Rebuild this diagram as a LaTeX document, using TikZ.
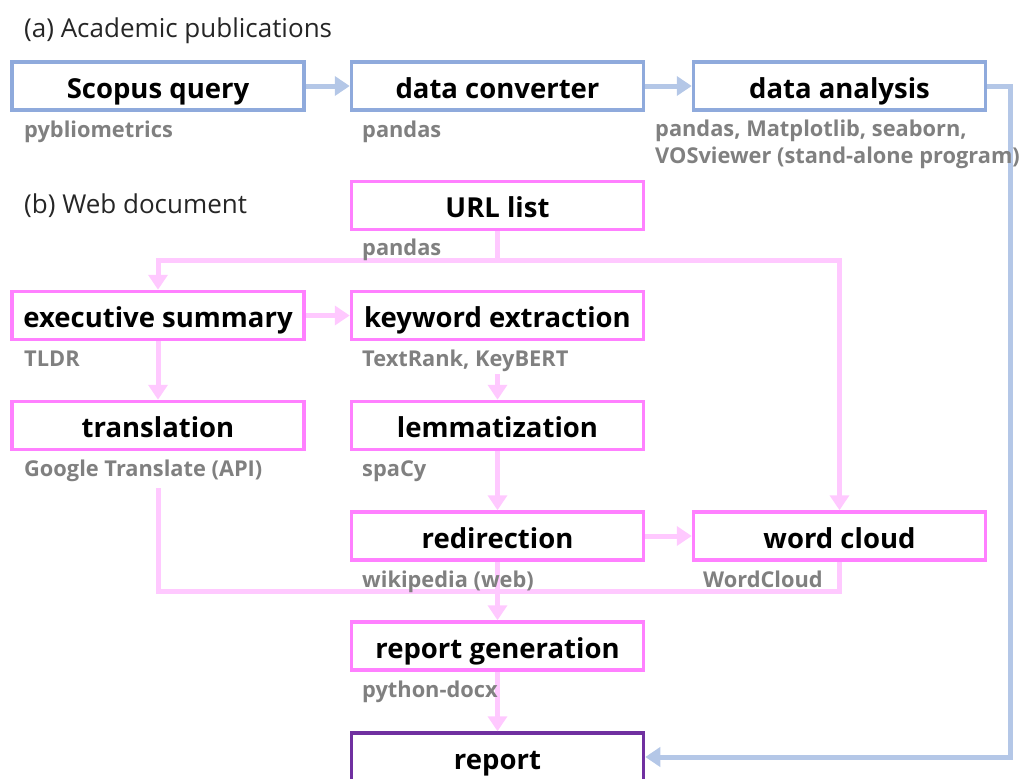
\documentclass[tikz,border=0pt]{standalone}
\usepackage{fontspec}
\setmainfont{Open Sans}
\usetikzlibrary{arrows.meta}
\definecolor{bbox}{HTML}{8FAADC}
\definecolor{barr}{HTML}{B4C7E7}
\definecolor{pbox}{HTML}{FF80FF}
\definecolor{parr}{HTML}{FFC9FF}
\definecolor{rbox}{HTML}{7030A0}
\definecolor{subgray}{HTML}{808080}
\tikzset{
  box/.style={draw, line width=3.5pt, minimum width=292pt, minimum height=48pt, inner sep=0pt,
    text height=26pt, text depth=2pt, font=\fontsize{27.5}{29}\selectfont\bfseries, text=black, fill=white},
  abox/.style={box, draw=bbox},
  wbox/.style={box, draw=pbox},
  rbox/.style={box, draw=rbox},
  sub/.style={anchor=base west, inner sep=0pt, text=subgray, font=\fontsize{21.8}{23}\selectfont\bfseries},
  head/.style={anchor=base west, inner sep=0pt, text=black!85, font=\fontsize{26}{28}\selectfont},
  barrow/.style={draw=barr, line width=5pt, -{Triangle[length=15pt,width=19pt]}},
  parrow/.style={draw=parr, line width=5pt, -{Triangle[length=15pt,width=19pt]}},
  pline/.style={draw=parr, line width=5pt},
}
\begin{document}
\begin{tikzpicture}[x=1pt,y=-1pt]
\useasboundingbox (0,0) rectangle (1026,779);
% headers
\node[head] (ha) at (24,37) {(a) Academic publications};
\node[head] (hb) at (24,213) {(b) Web document};
% row a
\node[abox] (sq) at (158,86) {Scopus query};
\node[abox] (dc) at (497.5,86) {data converter};
\node[abox] (da) at (839.5,86) {data analysis};
% row b
\node[wbox] (url) at (497.5,205.5) {URL list};
\node[wbox] (ex) at (158,315.5) {executive summary};
\node[wbox] (kw) at (497.5,315.5) {keyword extraction};
\node[wbox] (tr) at (158,425.5) {translation};
\node[wbox] (lem) at (497.5,425.5) {lemmatization};
\node[wbox] (red) at (497.5,536) {redirection};
\node[wbox] (wc) at (839.5,536) {word cloud};
\node[wbox] (rg) at (497.5,646) {report generation};
\node[rbox] (rep) at (497.5,757) {report};
% connectors
\coordinate (split) at (497.5,260);
\coordinate (join) at (497.5,591);
\coordinate (tstart) at (158,488);
\coordinate (kstart) at (497.5,374);
\draw[barrow] (sq.east) -- (dc.west);
\draw[barrow] (dc.east) -- (da.west);
\draw[barrow] (da.east) -- (1010,86) |- (rep.east);
\draw[pline] (url.south) -- (split);
\draw[parrow] (split) -| (ex.north);
\draw[parrow] (split) -| (wc.north);
\draw[parrow] (ex.east) -- (kw.west);
\draw[parrow] (ex.south) -- (tr.north);
\draw[parrow] (kstart) -- (lem.north);
\draw[parrow] (lem.south) -- (red.north);
\draw[parrow] (red.east) -- (wc.west);
\draw[pline] (tstart) |- (join);
\draw[pline] (wc.south) |- (join);
\draw[parrow] (red.south) -- (rg.north);
\draw[parrow] (rg.south) -- (rep.north);
% sub labels
\node[sub] (lsq) at (24,137) {pybliometrics};
\node[sub] (ldc) at (362,137) {pandas};
\node[sub] (lda1) at (655,136) {pandas, Matplotlib, seaborn,};
\node[sub] (lda2) at (655,163) {VOSviewer (stand-alone program)};
\node[sub] (lurl) at (362,255) {pandas};
\node[sub] (lex) at (24,366) {TLDR};
\node[sub] (lkw) at (362,366) {TextRank, KeyBERT};
\node[sub] (ltr) at (24,476) {Google Translate (API)};
\node[sub] (llem) at (362,476) {spaCy};
\node[sub] (lred) at (362,587) {wikipedia (web)};
\node[sub] (lwc) at (703,587) {WordCloud};
\node[sub] (lrg) at (362,697) {python-docx};
\end{tikzpicture}
\end{document}
